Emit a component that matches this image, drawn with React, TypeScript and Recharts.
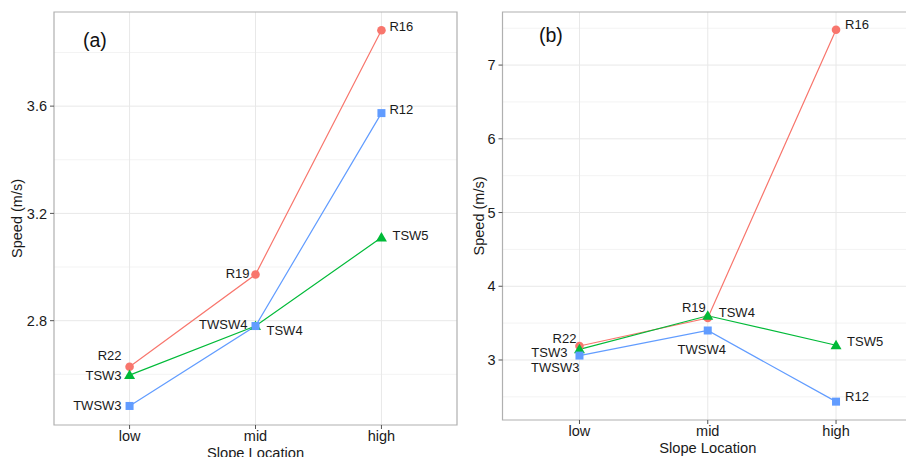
import React from 'react';
import { LineChart, Line, XAxis, YAxis, CartesianGrid, ReferenceArea, LabelList } from 'recharts';

const categories = ['low', 'mid', 'high'];

const panelATicks = [2.8, 3.2, 3.6];
const panelAMinor = [2.6, 3.0, 3.4, 3.8];
const panelBTicks = [3, 4, 5, 6, 7];
const panelBMinor = [2.5, 3.5, 4.5, 5.5, 6.5, 7.5];

const speedA_R = [2.628, 2.972, 3.883];
const speedA_TSW = [2.597, 2.78, 3.11];
const speedA_TWSW = [2.482, 2.78, 3.574];

const speedB_R = [3.19, 3.57, 7.48];
const speedB_TSW = [3.145, 3.6, 3.2];
const speedB_TWSW = [3.06, 3.4, 2.435];

const labels_R = ['R22', 'R19', 'R16'];
const labels_TSW = ['TSW3', 'TSW4', 'TSW5'];
const labels_TWSW = ['TWSW3', 'TWSW4', 'R12'];

const COLORS = { R: '#F8766D', TSW: '#00BA38', TWSW: '#619CFF' };
const FONT = '"Liberation Sans", Arial, Helvetica, sans-serif';

const buildRows = (r: number[], t: number[], w: number[]) =>
  categories.map((c, i) => ({
    x: i + 1,
    cat: c,
    R: r[i],
    TSW: t[i],
    TWSW: w[i],
    lR: labels_R[i],
    lTSW: labels_TSW[i],
    lTWSW: labels_TWSW[i],
  }));

const rowsA = buildRows(speedA_R, speedA_TSW, speedA_TWSW);
const rowsB = buildRows(speedB_R, speedB_TSW, speedB_TWSW);

// label placement: [dx, dy, anchor]
const offsetsA: Record<string, [number, number, string]> = {
  R22: [-8, -11, 'end'], R19: [-6, -1, 'end'], R16: [8, -4, 'start'],
  TSW3: [-8, 0, 'end'], TSW4: [11, 4, 'start'], TSW5: [11, -2, 'start'],
  TWSW3: [-8, 0, 'end'], TWSW4: [-8, -2, 'end'], R12: [8, -4, 'start'],
};
const offsetsB: Record<string, [number, number, string]> = {
  R22: [-3, -7, 'end'], R19: [-2, -10, 'end'], R16: [9, -5, 'start'],
  TSW3: [-12, 3, 'end'], TSW4: [11, -3, 'start'], TSW5: [11, -4, 'start'],
  TWSW3: [0, 12, 'end'], TWSW4: [-6, 19, 'middle'], R12: [9, -5, 'start'],
};

const circleDot = (p: any) => (
  <circle key={`c${p.index}`} cx={p.cx} cy={p.cy} r={4.3} fill={COLORS.R} />
);
const squareDot = (p: any) => (
  <rect key={`s${p.index}`} x={p.cx - 4} y={p.cy - 4} width={8} height={8} fill={COLORS.TWSW} />
);
const triDot = (p: any) => (
  <polygon
    key={`t${p.index}`}
    points={`${p.cx},${p.cy - 5.5} ${p.cx - 5.5},${p.cy + 4} ${p.cx + 5.5},${p.cy + 4}`}
    fill={COLORS.TSW}
  />
);

const makeLabel = (offsets: Record<string, [number, number, string]>) => (props: any) => {
  const { x, y, value } = props;
  const o = offsets[value] || [0, 0, 'start'];
  return (
    <text
      x={x + o[0]}
      y={y + o[1]}
      textAnchor={o[2] as any}
      dominantBaseline="central"
      fontSize={13}
      fontFamily={FONT}
      fill="#1a1a1a"
    >
      {value}
    </text>
  );
};

type PanelProps = {
  rows: any[];
  domain: [number, number];
  ticks: number[];
  minor: number[];
  offsets: Record<string, [number, number, string]>;
  width: number;
  marginRight: number;
  yAxisWidth: number;
  xAxisHeight: number;
  yLabelX: number;
};

const Panel = ({ rows, domain, ticks, minor, offsets, width, marginRight, yAxisWidth, xAxisHeight, yLabelX }: PanelProps) => (
  <LineChart width={width} height={457} data={rows} margin={{ top: 12, right: marginRight, bottom: 0, left: 0 }}>
    <CartesianGrid horizontalValues={minor} vertical={false} stroke="#f3f3f3" strokeWidth={1} />
    <CartesianGrid horizontalValues={ticks} verticalValues={[1, 2, 3]} stroke="#e8e8e8" strokeWidth={1} />
    <XAxis
      dataKey="x"
      type="number"
      domain={[0.4, 3.6]}
      ticks={[1, 2, 3]}
      allowDataOverflow
      tickFormatter={(v: number) => categories[v - 1]}
      height={xAxisHeight}
      axisLine={false}
      tickLine={{ stroke: '#555' }}
      tickSize={4}
      tickMargin={2}
      tick={{ fontSize: 14.5, fill: '#1a1a1a', fontFamily: FONT }}
      label={{
        content: (p: any) => {
          const vb = p.viewBox;
          return (
            <text
              x={vb.x + vb.width / 2}
              y={vb.y + 28}
              textAnchor="middle"
              dominantBaseline="central"
              fontSize={14.7}
              fontFamily={FONT}
              fill="#1a1a1a"
            >
              Slope Location
            </text>
          );
        },
      }}
    />
    <YAxis
      type="number"
      domain={domain}
      ticks={ticks}
      allowDataOverflow
      width={yAxisWidth}
      axisLine={false}
      tickLine={{ stroke: '#555' }}
      tickSize={4}
      tickMargin={3}
      tick={{ fontSize: 14.5, fill: '#1a1a1a', fontFamily: FONT }}
      label={{
        content: (p: any) => {
          const vb = p.viewBox;
          const cy = vb.y + vb.height / 2;
          return (
            <text
              x={yLabelX}
              y={cy}
              transform={`rotate(-90, ${yLabelX}, ${cy})`}
              textAnchor="middle"
              dominantBaseline="central"
              fontSize={14.5}
              fontFamily={FONT}
              fill="#1a1a1a"
            >
              Speed (m/s)
            </text>
          );
        },
      }}
    />
    <ReferenceArea x1={0.4} x2={3.6} y1={domain[0]} y2={domain[1]} fill="none" stroke="#b0b0b0" strokeWidth={1.2} />
    <Line dataKey="R" stroke={COLORS.R} strokeWidth={1.2} dot={circleDot} activeDot={false} isAnimationActive={false}>
      <LabelList dataKey="lR" content={makeLabel(offsets)} />
    </Line>
    <Line dataKey="TSW" stroke={COLORS.TSW} strokeWidth={1.2} dot={triDot} activeDot={false} isAnimationActive={false}>
      <LabelList dataKey="lTSW" content={makeLabel(offsets)} />
    </Line>
    <Line dataKey="TWSW" stroke={COLORS.TWSW} strokeWidth={1.2} dot={squareDot} activeDot={false} isAnimationActive={false}>
      <LabelList dataKey="lTWSW" content={makeLabel(offsets)} />
    </Line>
  </LineChart>
);

export default function App() {
  return (
    <div style={{ position: 'fixed', left: 0, top: 0, width: 906, height: 457, background: '#fff', overflow: 'hidden' }}>
      <div style={{ position: 'absolute', left: 0, top: 0, width: 460, height: 457 }}>
        <Panel
          rows={rowsA}
          domain={[2.411, 3.951]}
          ticks={panelATicks}
          minor={panelAMinor}
          offsets={offsetsA}
          width={460}
          marginRight={3}
          yAxisWidth={54}
          xAxisHeight={32}
          yLabelX={17}
        />
      </div>
      <div style={{ position: 'absolute', left: 457, top: 0, width: 449, height: 457, overflow: 'hidden' }}>
        <Panel
          rows={rowsB}
          domain={[2.186, 7.72]}
          ticks={panelBTicks}
          minor={panelBMinor}
          offsets={offsetsB}
          width={460}
          marginRight={4}
          yAxisWidth={45.5}
          xAxisHeight={37}
          yLabelX={22}
        />
      </div>
      <div style={{ position: 'absolute', left: 83, top: 27, fontSize: 19.5, fontFamily: FONT, color: '#111', lineHeight: '26px' }}>(a)</div>
      <div style={{ position: 'absolute', left: 539, top: 22, fontSize: 19.5, fontFamily: FONT, color: '#111', lineHeight: '26px' }}>(b)</div>
    </div>
  );
}
